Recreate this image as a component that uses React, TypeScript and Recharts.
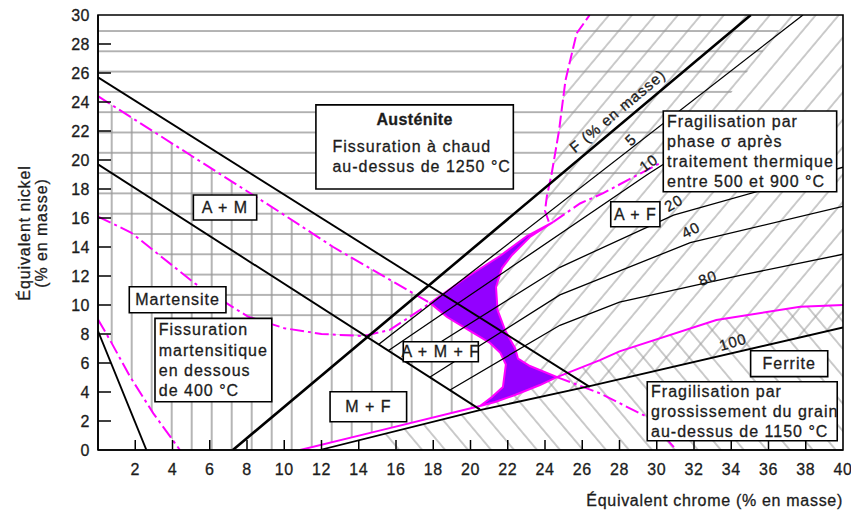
import React from 'react';
import { ComposedChart, XAxis, YAxis, Line, Area, Scatter, ReferenceArea } from 'recharts';

const FONT = '"Liberation Sans", Arial, Helvetica, sans-serif';
const INK = '#1c1c1c';
const MAGENTA = '#ff00ff';
const HATCH = '#959595';

const X_TICKS = [2, 4, 6, 8, 10, 12, 14, 16, 18, 20, 22, 24, 26, 28, 30, 32, 34, 36, 38, 40];
const Y_TICKS = [0, 2, 4, 6, 8, 10, 12, 14, 16, 18, 20, 22, 24, 26, 28, 30];

// Black boundary lines, points as [Cr_eq, Ni_eq]
const LINE_A_AM = [[0, 25.7], [26.4, 4.35]];
const LINE_AM_M = [[0, 19.7], [20.5, 2.8]];
const LINE_M_LEFT = [[0, 8.2], [2.6, 0]];
const FERRITE_0 = [[7.24, 0], [35.05, 30]];
const FERRITE_5 = [[15.08, 7.29], [37.85, 30]];
const FERRITE_10 = [[15.6, 6.86], [29.5, 19.0], [31.2, 20.4]];
const FERRITE_20 = [[16.6, 6.0], [24.8, 12.6], [30.9, 16.2], [40, 19.5]];
const FERRITE_40 = [[17.83, 5.03], [24.8, 10.7], [31.8, 14.3], [40, 16.8]];
const FERRITE_80 = [[18.9, 4.14], [24.8, 8.6], [28.0, 10.2], [34.6, 12.07], [40, 13.5]];
const FERRITE_100 = [[11.9, 0], [20.5, 2.75], [26.4, 4.4], [40, 8.45]];

// Magenta limit curves
const MAG_LEFT = [[0, 9.0], [0.64, 7.59], [1.72, 5.06], [2.97, 2.53], [4.4, 0]];
const MAG_UPPER = [[0, 24.4], [9.77, 16.4], [12.63, 14.0], [17.83, 10.14]];
const MAG_UPPER_END = [[24.64, 5.03], [26.95, 3.91], [29.45, 2.3], [31.06, 0]];
const MAG_MIDDLE = [[0, 16.1], [1.77, 15.0], [5.19, 11.5], [8.05, 9.2], [10.0, 8.4], [12.0, 8.0], [14.24, 7.86], [15.67, 8.28], [17.3, 9.66], [17.83, 10.14]];
const MAG_MIDDLE_END = [[24.43, 15.72], [25.88, 17.0], [27.1, 17.7], [30.2, 19.8]];
const MAG_TOP = [[24.2, 15.75], [24.0, 16.5], [24.1, 17.5], [24.35, 19.0], [24.75, 22.0], [25.1, 25.5], [25.7, 28.74], [26.4, 30]];
const MAG_BOTTOM = [[10.85, 0], [15, 1.3], [20.51, 3.03]];
const MAG_FERRITE = [[24.64, 5.03], [26.95, 6.2], [28.0, 6.8], [33.2, 8.97], [37.7, 9.88], [40, 10.0]];

// Zones (closed outlines)
const ZONE_SAFE = [[24.43, 15.72], [23.03, 14.76], [21.58, 13.38], [19.81, 11.93], [17.83, 10.14], [18.74, 9.17], [19.97, 8.21], [21.05, 7.38], [21.6, 6.7], [21.9, 5.9], [21.74, 4.34], [21.15, 3.66], [20.51, 3.03], [21.32, 3.31], [22.39, 3.79], [23.73, 4.48], [24.64, 5.03], [23.19, 5.79], [22.55, 6.3], [22.4, 7.0], [21.85, 8.28], [21.45, 9.66], [21.37, 11.24], [21.69, 12.55], [22.23, 13.45], [23.19, 14.69], [24.43, 15.72]];
const ZONE_HOT_CRACK = [[0, 30], [37.2, 30], [33.2, 23.3], [31.1, 19.8], [30.2, 19.8], [27.1, 17.7], [25.88, 17.0], [24.43, 15.72], [23.03, 14.76], [21.58, 13.38], [19.81, 11.93], [17.83, 10.14], [17.3, 9.66], [15.67, 8.28], [14.24, 7.86], [12.0, 8.0], [10.0, 8.4], [8.05, 9.2], [5.19, 11.5], [1.77, 15.0], [0, 16.1], [0, 30]];
const ZONE_MART_CRACK = [[0, 24.4], [9.77, 16.4], [12.63, 14.0], [17.83, 10.14], [18.74, 9.17], [19.97, 8.21], [21.05, 7.38], [21.6, 6.7], [21.9, 5.9], [21.74, 4.34], [21.15, 3.66], [20.51, 3.03], [15, 1.3], [10.85, 0], [4.4, 0], [2.97, 2.53], [1.72, 5.06], [0.64, 7.59], [0, 9.0], [0, 24.4]];
const ZONE_SIGMA = [[26.4, 30], [40, 30], [40, 8.45], [26.4, 4.4], [20.5, 2.75], [20.51, 3.03], [21.15, 3.66], [21.74, 4.34], [21.9, 5.9], [22.55, 6.3], [22.4, 7.0], [21.85, 8.28], [21.45, 9.66], [21.37, 11.24], [21.69, 12.55], [22.23, 13.45], [23.19, 14.69], [24.43, 15.72], [24.0, 16.5], [24.1, 17.5], [24.35, 19.0], [24.75, 22.0], [25.1, 25.5], [25.7, 28.74], [26.4, 30]];
const ZONE_GRAIN = [[15.2, 0], [40, 0], [40, 10.0], [37.7, 9.88], [33.2, 8.97], [28.0, 6.8], [26.95, 6.2], [24.64, 5.03], [23.73, 4.48], [22.39, 3.79], [21.32, 3.31], [20.51, 3.03], [20.5, 2.75], [15.2, 1.03], [15.2, 0]];

// Annotations
const FAN_LABELS = [
  { x: 27.89, y: 23.39, text: 'F (% en masse)', angle: -40 },
  { x: 28.6, y: 21.4, text: '5', angle: -42 },
  { x: 29.57, y: 19.79, text: '10', angle: -36 },
  { x: 30.91, y: 17.03, text: '20', angle: -30 },
  { x: 31.83, y: 15.17, text: '40', angle: -28 },
  { x: 32.74, y: 11.86, text: '80', angle: -20 },
  { x: 34.09, y: 7.45, text: '100', angle: -16 },
];

const BOXES = [
  { x1: 11.7, x2: 22.3, y1: 18.0, y2: 23.8, lines: ['Austénite', 'Fissuration à chaud', 'au-dessus de 1250 °C'], kind: 'title' },
  { x1: 5.12, x2: 8.52, y1: 15.86, y2: 17.59, lines: ['A + M'], kind: 'center' },
  { x1: 1.68, x2: 6.87, y1: 9.47, y2: 11.26, lines: ['Martensite'], kind: 'center' },
  { x1: 3.06, x2: 9.33, y1: 3.33, y2: 9.08, lines: ['Fissuration', 'martensitique', 'en dessous', 'de 400 °C'], kind: 'left' },
  { x1: 12.46, x2: 16.57, y1: 1.95, y2: 4.02, lines: ['M + F'], kind: 'center' },
  { x1: 16.39, x2: 20.42, y1: 6.09, y2: 7.47, lines: ['A + M + F'], kind: 'center' },
  { x1: 27.53, x2: 30.17, y1: 15.4, y2: 17.12, lines: ['A + F'], kind: 'center' },
  { x1: 30.35, x2: 39.66, y1: 17.81, y2: 23.38, lines: ['Fragilisation par', 'phase σ après', 'traitement thermique', 'entre 500 et 900 °C'], kind: 'left' },
  { x1: 35.04, x2: 39.18, y1: 5.06, y2: 6.85, lines: ['Ferrite'], kind: 'center' },
  { x1: 29.49, x2: 39.69, y1: 0.64, y2: 4.71, lines: ['Fragilisation par', 'grossissement du grain', 'au-dessus de 1150 °C'], kind: 'left' },
];

const toPts = (a: number[][]) => a.map(([x, y]) => ({ x, y }));

const BLACK_LINES = [
  { id: 'a-am', pts: LINE_A_AM, w: 1.9 },
  { id: 'am-m', pts: LINE_AM_M, w: 1.9 },
  { id: 'm-left', pts: LINE_M_LEFT, w: 1.9 },
  { id: 'f5', pts: FERRITE_5, w: 1.3 },
  { id: 'f10', pts: FERRITE_10, w: 1.3 },
  { id: 'f20', pts: FERRITE_20, w: 1.3 },
  { id: 'f40', pts: FERRITE_40, w: 1.3 },
  { id: 'f80', pts: FERRITE_80, w: 1.3 },
  { id: 'f100', pts: FERRITE_100, w: 1.8 },
  { id: 'f0', pts: FERRITE_0, w: 2.6 },
];

const MAG_LINES = [
  { id: 'mag-left', pts: MAG_LEFT, dash: '14 4 3 4' },
  { id: 'mag-upper', pts: MAG_UPPER, dash: '14 4 3 4' },
  { id: 'mag-upper-end', pts: MAG_UPPER_END, dash: '14 4 3 4' },
  { id: 'mag-middle', pts: MAG_MIDDLE, dash: '14 4 3 4' },
  { id: 'mag-middle-end', pts: MAG_MIDDLE_END, dash: '14 4 3 4' },
  { id: 'mag-top', pts: MAG_TOP, dash: '12 4' },
  { id: 'mag-bottom', pts: MAG_BOTTOM, dash: '' },
  { id: 'mag-ferrite', pts: MAG_FERRITE, dash: '' },
];

const ZONES = [
  { id: 'hot', pts: ZONE_HOT_CRACK, fill: 'url(#hatchH)' },
  { id: 'mart', pts: ZONE_MART_CRACK, fill: 'url(#hatchV)' },
  { id: 'sigma', pts: ZONE_SIGMA, fill: 'url(#hatchS)' },
  { id: 'grain', pts: ZONE_GRAIN, fill: 'url(#hatchB)' },
];

const textStyle = { fontFamily: FONT, fill: INK, stroke: INK, strokeWidth: 0.3 };

const XTick = (props: any) => {
  const { x, y, payload } = props;
  const v = payload.value;
  return (
    <g>
      {v > 0 && v < 40 && <line x1={x} y1={y} x2={x} y2={y - 10} stroke="#000" strokeWidth={1.5} />}
      <text x={x} y={y + 25} textAnchor="middle" fontSize={16} letterSpacing={0.5} style={textStyle}>{v}</text>
    </g>
  );
};

const YTick = (props: any) => {
  const { x, y, payload } = props;
  const v = payload.value;
  return (
    <g>
      {v > 0 && v < 30 && <line x1={x} y1={y} x2={x + 13} y2={y} stroke="#000" strokeWidth={1.5} />}
      <text x={x - 8} y={y} dy="0.36em" textAnchor="end" fontSize={16} letterSpacing={0.5} style={textStyle}>{v}</text>
    </g>
  );
};

const XTitle = (props: any) => {
  const vb = props.viewBox || { x: 98, y: 450, width: 745, height: 60 };
  return (
    <text x={vb.x + vb.width} y={vb.y + 56} textAnchor="end" fontSize={16} letterSpacing={0.7} style={textStyle}>
      Équivalent chrome (% en masse)
    </text>
  );
};

const YTitle = (props: any) => {
  const vb = props.viewBox || { x: 0, y: 15, width: 98, height: 435 };
  const cy = vb.y + 218;
  return (
    <g>
      <text transform={`translate(${vb.x + 24}, ${cy}) rotate(-90)`} dy="0.35em" textAnchor="middle" fontSize={16} letterSpacing={0.9} style={textStyle}>
        Équivalent nickel
      </text>
      <text transform={`translate(${vb.x + 41.5}, ${cy}) rotate(-90)`} dy="0.35em" textAnchor="middle" fontSize={16} letterSpacing={0.9} style={textStyle}>
        (% en masse)
      </text>
    </g>
  );
};

const RotLabel = (props: any) => {
  const { cx, cy, payload } = props;
  if (cx == null || cy == null) return null;
  return (
    <text x={cx} y={cy} dy="0.35em" textAnchor="middle" fontSize={15} letterSpacing={1}
      transform={`rotate(${payload.angle} ${cx} ${cy})`} style={textStyle}>
      {payload.text}
    </text>
  );
};

const boxLabel = (box: any) => (props: any) => {
  const vb = props.viewBox;
  if (!vb) return null;
  const { x, y, width, height } = vb;
  const common = { fontSize: 16, letterSpacing: 1, style: textStyle };
  if (box.kind === 'title') {
    return (
      <g>
        <text x={x + width / 2} y={y + 14} dy="0.36em" textAnchor="middle" fontWeight="bold" {...common} letterSpacing={0.4}>{box.lines[0]}</text>
        <text x={x + 16.5} y={y + 41} dy="0.36em" textAnchor="start" {...common}>{box.lines[1]}</text>
        <text x={x + 16.5} y={y + 61} dy="0.36em" textAnchor="start" {...common}>{box.lines[2]}</text>
      </g>
    );
  }
  const n = box.lines.length;
  const lh = 20.2;
  const cy = y + height / 2;
  const left = box.kind === 'left';
  return (
    <g>
      {box.lines.map((t: string, i: number) => (
        <text key={i} x={left ? x + 3.8 : x + width / 2} y={cy + (i - (n - 1) / 2) * lh} dy="0.36em"
          textAnchor={left ? 'start' : 'middle'} {...common}>{t}</text>
      ))}
    </g>
  );
};

export default function App() {
  return (
    <div style={{ position: 'absolute', left: 0, top: 0, width: 851, height: 510, background: '#fff', overflow: 'hidden' }}>
      <ComposedChart width={851} height={510} margin={{ top: 15, right: 8, bottom: 0, left: 0 }}>
        <defs>
          <pattern id="hatchH" patternUnits="userSpaceOnUse" x="0" y="9.7" width="10" height="20.3">
            <line x1="0" y1="1" x2="10" y2="1" stroke={HATCH} strokeWidth="1.4" />
          </pattern>
          <pattern id="hatchV" patternUnits="userSpaceOnUse" x="10.7" y="0" width="20" height="10">
            <line x1="1" y1="0" x2="1" y2="10" stroke={HATCH} strokeWidth="1.4" />
          </pattern>
          <pattern id="hatchS" patternUnits="userSpaceOnUse" width="10" height="17.6" patternTransform="rotate(-50)">
            <line x1="0" y1="1" x2="10" y2="1" stroke={HATCH} strokeWidth="1" />
          </pattern>
          <pattern id="hatchB" patternUnits="userSpaceOnUse" width="10" height="17.6" patternTransform="rotate(50)">
            <line x1="0" y1="1" x2="10" y2="1" stroke={HATCH} strokeWidth="1" />
          </pattern>
        </defs>
        <XAxis type="number" dataKey="x" domain={[0, 40]} ticks={X_TICKS} interval={0} allowDataOverflow
          height={60} tickSize={0} tickMargin={0} tickLine={false} tick={(p: any) => <XTick {...p} />}
          axisLine={{ stroke: '#000', strokeWidth: 1.6 }} label={(p: any) => <XTitle {...p} />} />
        <YAxis type="number" dataKey="y" domain={[0, 30]} ticks={Y_TICKS} interval={0} allowDataOverflow
          width={98} tickSize={0} tickMargin={0} tickLine={false} tick={(p: any) => <YTick {...p} />}
          axisLine={{ stroke: '#000', strokeWidth: 1.6 }} label={(p: any) => <YTitle {...p} />} />

        {ZONES.map((z) => (
          <Area key={z.id} data={toPts(z.pts)} dataKey="y" type="linear" baseValue={0}
            stroke="none" fill={z.fill} fillOpacity={1} dot={false} activeDot={false}
            isAnimationActive={false} legendType="none" />
        ))}
        <Area data={toPts(ZONE_SAFE)} dataKey="y" type="linear" baseValue={0}
          stroke={MAGENTA} strokeWidth={2} fill="#9300ff" fillOpacity={1} dot={false} activeDot={false}
          isAnimationActive={false} legendType="none" />

        {MAG_LINES.map((l) => (
          <Line key={l.id} data={toPts(l.pts)} dataKey="y" type="linear" stroke={MAGENTA} strokeWidth={2}
            strokeDasharray={l.dash || undefined} dot={false} activeDot={false} isAnimationActive={false} legendType="none" />
        ))}
        {BLACK_LINES.map((l) => (
          <Line key={l.id} data={toPts(l.pts)} dataKey="y" type="linear" stroke="#000" strokeWidth={l.w}
            dot={false} activeDot={false} isAnimationActive={false} legendType="none" />
        ))}

        <Scatter data={FAN_LABELS} dataKey="y" shape={(p: any) => <RotLabel {...p} />} isAnimationActive={false} legendType="none" />

        {BOXES.map((b, i) => (
          <ReferenceArea key={i} x1={b.x1} x2={b.x2} y1={b.y1} y2={b.y2} fill="#fff" fillOpacity={1}
            stroke="#000" strokeWidth={1.6} zIndex={1500} label={boxLabel(b)} />
        ))}
        <ReferenceArea x1={0} x2={40} y1={0} y2={30} fill="none" stroke="#000" strokeWidth={1.6} zIndex={1600} />
      </ComposedChart>
    </div>
  );
}
